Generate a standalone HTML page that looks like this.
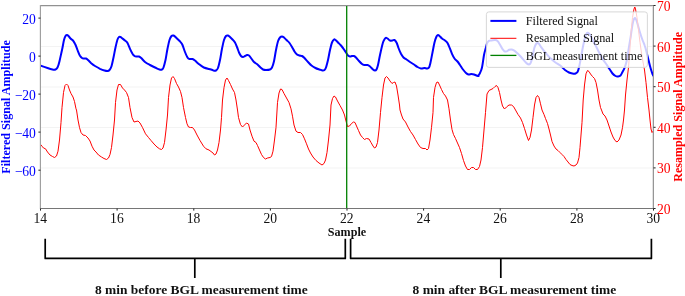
<!DOCTYPE html>
<html><head><meta charset="utf-8"><title>Signal plot</title>
<style>
html,body{margin:0;padding:0;background:#fff;}
body{width:685px;height:296px;overflow:hidden;font-family:"Liberation Serif",serif;}
svg{display:block;will-change:transform;}
text{font-family:"Liberation Serif",serif;}
.tk{font-size:13.6px;}
.b{font-weight:bold;font-size:12.1px;}
.bb{font-weight:bold;font-size:13.44px;}
</style></head><body>
<svg width="685" height="296" viewBox="0 0 685 296">
<rect x="0" y="0" width="685" height="296" fill="#fff"/>
<defs><clipPath id="cp"><rect x="40.5" y="5.5" width="613.0" height="203.0"/></clipPath></defs>

<line x1="40.5" x2="653.5" y1="46.5" y2="46.5" stroke="#f3f3f3" stroke-width="1"/>
<line x1="40.5" x2="653.5" y1="87.0" y2="87.0" stroke="#f3f3f3" stroke-width="1"/>
<line x1="40.5" x2="653.5" y1="127.5" y2="127.5" stroke="#f3f3f3" stroke-width="1"/>
<line x1="40.5" x2="653.5" y1="168.0" y2="168.0" stroke="#f3f3f3" stroke-width="1"/>
<g shape-rendering="crispEdges">
<rect x="41" y="6" width="611" height="1" fill="#e4e4e4"/>
<rect x="39" y="5" width="1" height="204" fill="#eeeeee"/>
<rect x="652" y="6" width="1" height="202" fill="#e2e2e2"/>
</g>
<g clip-path="url(#cp)" fill="none" stroke-linejoin="round" stroke-linecap="round">
<path d="M40.0 65.5 C41.2 65.9 45.4 67.3 47.5 68.0 C49.6 68.7 51.2 69.2 52.5 69.5 C53.8 69.8 54.7 69.8 55.5 69.5 C56.3 69.2 56.8 68.9 57.5 67.5 C58.2 66.1 58.8 64.2 59.5 61.2 C60.2 58.3 61.2 53.5 62.0 50.0 C62.8 46.5 63.4 42.3 64.0 40.0 C64.6 37.7 65.0 36.8 65.5 36.0 C66.0 35.2 66.5 35.0 67.0 35.0 C67.5 35.0 67.9 35.4 68.5 36.0 C69.1 36.6 69.8 37.8 70.5 38.5 C71.2 39.2 72.2 39.6 73.0 40.5 C73.8 41.4 74.2 42.2 75.0 43.8 C75.8 45.3 76.7 48.0 77.5 50.0 C78.3 52.0 79.2 54.4 80.0 55.8 C80.8 57.1 81.3 57.5 82.0 58.0 C82.7 58.5 83.3 58.4 84.0 58.5 C84.7 58.6 85.3 58.2 86.0 58.5 C86.7 58.8 87.1 59.2 88.0 60.0 C88.9 60.8 90.1 62.2 91.2 63.2 C92.4 64.2 93.5 65.1 95.0 66.0 C96.5 66.9 98.4 68.0 100.0 68.8 C101.6 69.5 103.2 70.1 104.5 70.5 C105.8 70.9 106.7 71.1 107.5 71.0 C108.3 70.9 108.8 70.8 109.5 70.0 C110.2 69.2 110.8 68.3 111.5 66.2 C112.2 64.2 112.8 60.6 113.5 57.5 C114.2 54.4 114.8 50.5 115.5 47.5 C116.2 44.5 116.9 41.2 117.5 39.5 C118.1 37.8 118.5 37.4 119.0 37.0 C119.5 36.6 119.9 36.8 120.5 37.0 C121.1 37.2 121.8 37.9 122.5 38.5 C123.2 39.1 124.2 39.8 125.0 40.5 C125.8 41.2 126.7 41.6 127.5 43.0 C128.3 44.4 129.2 47.0 130.0 48.8 C130.8 50.5 131.8 52.5 132.5 53.8 C133.2 55.0 133.8 55.5 134.5 56.0 C135.2 56.5 136.2 56.4 137.0 56.5 C137.8 56.6 138.3 56.2 139.0 56.5 C139.7 56.8 140.2 57.1 141.2 58.0 C142.2 58.9 143.5 60.8 145.0 62.0 C146.5 63.2 148.3 64.1 150.0 65.0 C151.7 65.9 153.4 66.8 155.0 67.5 C156.6 68.2 158.3 69.2 159.5 69.5 C160.7 69.8 161.3 69.8 162.0 69.5 C162.7 69.2 162.9 69.1 163.5 67.5 C164.1 65.9 164.8 63.1 165.5 60.0 C166.2 56.9 166.8 52.1 167.5 48.8 C168.2 45.4 168.8 42.1 169.5 40.0 C170.2 37.9 170.8 36.8 171.5 36.0 C172.2 35.2 172.8 35.3 173.5 35.5 C174.2 35.7 174.8 36.3 175.5 37.0 C176.2 37.7 177.2 38.7 178.0 39.5 C178.8 40.3 179.8 41.1 180.5 42.0 C181.2 42.9 181.8 43.3 182.5 45.0 C183.2 46.7 184.2 49.9 185.0 52.0 C185.8 54.1 186.8 56.3 187.5 57.5 C188.2 58.7 188.7 58.8 189.5 59.0 C190.3 59.2 191.6 58.8 192.5 59.0 C193.4 59.2 194.0 59.7 195.0 60.5 C196.0 61.3 197.3 62.8 198.8 64.0 C200.2 65.2 201.7 66.6 203.8 67.5 C205.8 68.4 209.4 69.0 211.0 69.5 C212.6 70.0 212.7 70.3 213.5 70.5 C214.3 70.7 215.2 70.9 216.0 70.5 C216.8 70.1 217.3 69.8 218.0 68.0 C218.7 66.2 219.3 63.2 220.0 60.0 C220.7 56.8 221.3 52.1 222.0 48.8 C222.7 45.4 223.3 42.1 224.0 40.0 C224.7 37.9 225.3 36.8 226.0 36.0 C226.7 35.2 227.3 35.3 228.0 35.5 C228.7 35.7 229.2 36.3 230.0 37.0 C230.8 37.7 231.7 38.6 232.5 39.5 C233.3 40.4 234.2 41.2 235.0 42.5 C235.8 43.8 236.3 45.3 237.0 47.0 C237.7 48.7 238.3 51.0 239.0 52.5 C239.7 54.0 240.3 55.2 241.0 56.0 C241.7 56.8 242.3 57.0 243.0 57.0 C243.7 57.0 244.3 56.3 245.0 56.0 C245.7 55.7 246.3 55.1 247.0 55.0 C247.7 54.9 248.3 55.0 249.0 55.5 C249.7 56.0 250.2 56.9 251.0 58.0 C251.8 59.1 252.9 60.9 254.0 62.0 C255.1 63.1 256.4 63.6 257.5 64.5 C258.6 65.4 259.6 66.7 260.5 67.5 C261.4 68.3 262.1 69.1 263.0 69.5 C263.9 69.9 264.8 70.0 266.0 70.0 C267.2 70.0 269.0 69.9 270.0 69.5 C271.0 69.1 271.3 68.9 272.0 67.5 C272.7 66.1 273.3 64.2 274.0 61.2 C274.7 58.3 275.3 53.3 276.0 50.0 C276.7 46.7 277.3 43.3 278.0 41.2 C278.7 39.2 279.3 38.3 280.0 37.5 C280.7 36.7 281.3 36.5 282.0 36.5 C282.7 36.5 283.2 36.9 284.0 37.5 C284.8 38.1 285.6 39.1 286.5 40.0 C287.4 40.9 288.6 41.8 289.5 43.0 C290.4 44.2 291.2 45.6 292.0 47.0 C292.8 48.4 293.7 50.2 294.5 51.5 C295.3 52.8 296.2 53.8 297.0 54.5 C297.8 55.2 298.7 55.2 299.5 55.5 C300.3 55.8 301.2 55.6 302.0 56.0 C302.8 56.4 303.5 57.0 304.5 58.0 C305.5 59.0 306.8 60.8 308.0 62.0 C309.2 63.2 310.2 64.5 311.5 65.5 C312.8 66.5 314.2 67.3 315.5 68.0 C316.8 68.7 318.3 69.1 319.5 69.5 C320.7 69.9 321.7 70.4 322.5 70.5 C323.3 70.6 323.9 70.5 324.5 70.0 C325.1 69.5 325.4 69.2 326.0 67.5 C326.6 65.8 327.3 62.9 328.0 60.0 C328.7 57.1 329.3 52.9 330.0 50.0 C330.7 47.1 331.3 44.2 332.0 42.5 C332.7 40.8 333.4 39.9 334.0 39.5 C334.6 39.1 334.8 39.5 335.5 40.0 C336.2 40.5 337.1 41.6 338.0 42.5 C338.9 43.4 340.0 44.3 341.0 45.5 C342.0 46.7 343.2 48.3 344.0 49.5 C344.8 50.7 345.3 51.5 346.0 52.5 C346.7 53.5 347.3 54.8 348.0 55.5 C348.7 56.2 349.3 56.4 350.0 56.5 C350.7 56.6 351.3 56.1 352.0 56.0 C352.7 55.9 353.3 55.8 354.0 56.0 C354.7 56.2 355.2 56.7 356.0 57.5 C356.8 58.3 358.0 59.9 359.0 61.0 C360.0 62.1 361.1 63.3 362.0 64.0 C362.9 64.7 363.6 64.8 364.5 65.0 C365.4 65.2 366.6 64.8 367.5 65.0 C368.4 65.2 369.1 65.8 370.0 66.5 C370.9 67.2 372.2 68.8 373.0 69.5 C373.8 70.2 374.4 70.5 375.0 70.5 C375.6 70.5 376.0 70.4 376.5 69.5 C377.0 68.6 377.4 67.4 378.0 65.0 C378.6 62.6 379.3 58.1 380.0 55.0 C380.7 51.9 381.4 48.5 382.0 46.2 C382.6 44.0 382.9 42.6 383.5 41.2 C384.1 39.9 384.8 38.5 385.5 38.0 C386.2 37.5 386.8 38.1 387.5 38.5 C388.2 38.9 389.2 40.2 390.0 40.5 C390.8 40.8 391.8 40.6 392.5 40.5 C393.2 40.4 393.8 39.7 394.5 40.0 C395.2 40.3 395.8 41.2 396.5 42.5 C397.2 43.8 397.8 46.1 398.5 48.0 C399.2 49.9 400.2 52.2 401.0 53.8 C401.8 55.3 402.6 56.5 403.5 57.5 C404.4 58.5 405.4 58.8 406.5 59.5 C407.6 60.2 408.8 61.2 410.0 62.0 C411.2 62.8 412.8 63.7 414.0 64.5 C415.2 65.3 416.3 66.3 417.5 67.0 C418.7 67.7 419.8 68.3 421.0 68.5 C422.2 68.7 423.5 68.0 424.5 68.0 C425.5 68.0 426.2 68.6 427.0 68.5 C427.8 68.4 428.4 68.5 429.0 67.5 C429.6 66.5 429.9 65.0 430.5 62.5 C431.1 60.0 431.8 55.8 432.5 52.5 C433.2 49.2 433.8 45.2 434.5 42.5 C435.2 39.8 435.9 37.8 436.5 36.5 C437.1 35.2 437.5 35.1 438.0 35.0 C438.5 34.9 438.8 35.4 439.5 36.0 C440.2 36.6 441.1 37.8 442.0 38.5 C442.9 39.2 444.1 39.8 445.0 40.5 C445.9 41.2 446.8 41.8 447.5 43.0 C448.2 44.2 448.8 45.7 449.5 47.5 C450.2 49.3 451.2 51.9 452.0 53.8 C452.8 55.6 453.6 57.2 454.5 58.5 C455.4 59.8 456.6 60.4 457.5 61.5 C458.4 62.6 459.1 63.7 460.0 65.0 C460.9 66.3 462.0 68.2 463.0 69.5 C464.0 70.8 465.1 72.2 466.0 73.0 C466.9 73.8 467.6 74.3 468.5 74.5 C469.4 74.7 470.6 74.0 471.5 74.0 C472.4 74.0 473.2 74.2 474.0 74.5 C474.8 74.8 475.8 75.2 476.5 75.5 C477.2 75.8 478.2 76.0 478.5 76.0 C478.8 76.0 478.2 76.0 478.5 75.5 C478.8 75.0 479.4 74.3 480.0 73.0 C480.6 71.7 481.3 70.5 482.0 67.5 C482.7 64.5 483.4 58.2 484.0 55.0 C484.6 51.8 485.3 50.0 485.8 48.0 C486.3 46.0 486.5 44.5 487.0 43.3 C487.5 42.1 488.0 41.3 488.8 40.8 C489.6 40.3 490.6 40.5 491.7 40.4 C492.8 40.3 494.2 40.0 495.2 40.1 C496.2 40.2 496.7 40.3 497.5 41.0 C498.3 41.7 499.1 43.2 499.9 44.5 C500.7 45.8 501.4 47.5 502.2 48.6 C503.0 49.7 503.7 50.8 504.5 51.3 C505.3 51.8 506.1 51.5 506.9 51.3 C507.7 51.0 508.4 50.1 509.2 49.8 C510.0 49.5 510.7 49.3 511.5 49.4 C512.3 49.5 512.9 49.8 513.9 50.4 C514.9 51.0 516.2 52.2 517.4 53.3 C518.6 54.4 519.7 55.5 520.9 56.8 C522.1 58.1 523.4 59.8 524.4 60.9 C525.4 62.0 525.9 62.8 526.7 63.4 C527.5 64.0 528.4 64.5 529.1 64.4 C529.8 64.3 530.2 64.0 530.8 62.6 C531.4 61.2 532.0 58.6 532.6 56.2 C533.2 53.8 533.7 50.0 534.3 48.0 C534.9 46.0 535.6 44.7 536.1 43.9 C536.6 43.1 537.0 43.1 537.5 43.1 C538.0 43.1 538.4 43.2 539.0 43.9 C539.6 44.6 540.2 45.9 541.3 47.4 C542.4 48.9 543.9 51.0 545.4 52.7 C546.9 54.5 548.5 56.4 550.1 57.9 C551.7 59.4 553.1 60.8 554.8 62.0 C556.4 63.2 558.3 64.0 560.0 65.3 C561.7 66.6 563.5 68.8 565.0 70.0 C566.5 71.2 567.8 71.9 569.0 72.5 C570.2 73.1 571.4 73.3 572.5 73.5 C573.6 73.7 574.7 73.8 575.5 73.5 C576.3 73.2 576.9 73.0 577.5 72.0 C578.1 71.0 578.4 69.9 579.0 67.5 C579.6 65.1 580.3 61.0 581.0 57.5 C581.7 54.0 582.3 49.8 583.0 46.5 C583.7 43.2 584.4 39.9 585.0 37.8 C585.6 35.7 585.9 34.6 586.4 33.8 C586.9 33.0 587.2 32.8 587.7 32.8 C588.2 32.8 588.7 33.3 589.2 33.8 C589.7 34.3 589.8 34.4 590.7 36.0 C591.6 37.6 593.2 40.9 594.5 43.4 C595.8 45.9 596.9 48.2 598.2 50.7 C599.5 53.2 601.3 56.7 602.5 58.7 C603.7 60.8 604.3 61.3 605.5 63.0 C606.7 64.7 608.3 67.2 609.5 69.0 C610.7 70.8 611.5 72.3 612.5 73.5 C613.5 74.7 614.6 75.5 615.5 76.0 C616.4 76.5 617.2 76.6 618.0 76.5 C618.8 76.4 619.8 76.2 620.5 75.5 C621.2 74.8 621.8 73.2 622.5 72.0 C623.2 70.8 623.9 69.7 624.5 68.0 C625.1 66.3 625.7 65.1 626.4 62.0 C627.1 58.9 627.9 53.5 628.6 49.2 C629.3 44.9 630.1 40.1 630.8 36.0 C631.4 31.9 632.0 27.2 632.5 24.5 C633.0 21.8 633.4 20.6 633.8 19.5 C634.2 18.4 634.6 17.9 635.0 18.0 C635.4 18.1 635.9 19.0 636.3 20.0 C636.7 21.0 636.9 21.7 637.5 23.8 C638.1 25.8 639.2 29.8 640.0 32.5 C640.8 35.2 641.7 37.8 642.5 40.0 C643.3 42.2 644.0 43.2 644.7 45.5 C645.5 47.8 646.4 51.6 647.0 54.0 C647.6 56.4 648.0 58.0 648.5 60.0 C649.0 62.0 649.5 64.2 650.0 66.0 C650.5 67.8 650.9 69.2 651.3 70.5 C651.7 71.8 652.1 73.1 652.5 74.0 C652.9 74.9 653.3 75.7 653.5 76.0" stroke="#0000ff" stroke-width="2.0"/>
<path d="M40.0 143.8 L42.0 146.2 L43.5 148.0 L45.5 148.8 L47.5 152.0 L50.0 155.0 L52.5 156.5 L54.5 157.5 L56.5 156.0 L58.0 151.2 L59.5 140.0 L61.0 122.5 L62.0 107.5 L63.5 92.5 L65.0 85.5 L66.5 84.0 L68.0 85.5 L69.5 90.0 L71.0 93.5 L73.0 97.0 L74.5 101.5 L76.0 108.8 L76.5 110.0 L78.0 120.0 L79.5 127.5 L81.0 132.5 L83.0 135.0 L85.5 135.5 L88.0 138.0 L90.0 141.0 L92.0 146.2 L94.0 150.0 L96.0 152.0 L98.5 155.0 L101.5 157.0 L104.0 158.5 L106.5 159.5 L108.5 158.0 L110.0 154.5 L111.5 147.5 L113.0 135.0 L114.5 120.0 L115.5 102.5 L117.0 90.0 L118.5 84.5 L120.5 84.5 L122.5 88.0 L124.5 90.0 L126.5 92.5 L128.5 97.5 L130.0 107.5 L130.5 110.0 L132.0 117.5 L134.0 122.0 L136.0 121.5 L138.0 121.0 L140.0 123.0 L142.5 127.5 L145.5 133.8 L148.5 137.5 L151.0 140.5 L154.0 144.0 L157.0 147.0 L159.5 148.8 L161.5 149.5 L163.0 148.0 L164.5 142.5 L166.0 130.0 L167.5 115.0 L168.5 97.5 L170.0 85.0 L171.5 78.0 L173.0 76.5 L174.5 78.5 L176.5 83.5 L178.5 87.0 L180.5 91.5 L182.0 97.5 L183.5 107.5 L184.0 110.0 L185.5 117.5 L187.0 123.8 L188.5 127.0 L190.5 127.5 L192.5 127.5 L194.5 130.0 L197.0 135.0 L200.0 140.5 L203.5 146.2 L206.0 148.8 L209.0 150.0 L211.0 151.5 L213.0 153.0 L214.5 155.0 L216.0 154.0 L217.5 150.0 L219.0 142.5 L220.5 130.0 L221.5 117.5 L222.5 100.0 L224.0 87.5 L225.5 80.0 L227.0 78.0 L228.5 80.5 L230.5 84.5 L232.5 89.0 L234.5 92.5 L236.0 100.0 L237.5 110.0 L238.5 117.5 L240.5 124.5 L242.5 127.0 L244.5 125.0 L246.5 123.0 L248.5 124.0 L250.0 130.0 L252.0 136.2 L254.0 141.2 L256.0 142.5 L257.5 145.5 L259.5 150.0 L261.5 154.5 L263.5 157.5 L265.5 159.0 L267.5 158.0 L270.0 157.5 L271.5 156.5 L273.0 151.2 L274.5 140.0 L276.0 127.5 L277.5 102.5 L279.0 93.0 L280.5 89.0 L282.0 89.5 L284.0 93.5 L286.5 98.0 L289.0 102.5 L291.0 108.8 L292.5 116.2 L294.0 125.0 L296.0 131.2 L298.0 132.5 L300.5 132.5 L302.5 134.5 L304.5 138.8 L306.5 143.8 L308.5 149.0 L310.5 153.0 L313.0 157.0 L316.0 160.5 L319.0 163.0 L322.0 165.0 L324.0 163.5 L325.5 160.0 L327.0 152.5 L328.5 140.0 L330.0 125.0 L331.0 105.0 L332.5 98.5 L334.0 96.0 L335.5 97.0 L337.5 101.0 L340.0 105.5 L342.5 110.0 L344.5 115.0 L346.0 121.2 L347.5 126.5 L349.5 126.0 L351.5 123.5 L353.5 122.0 L355.0 122.5 L356.5 126.0 L358.5 130.5 L360.5 135.0 L362.5 137.5 L364.5 139.5 L366.5 138.5 L369.0 139.0 L371.0 142.5 L373.0 146.0 L374.5 148.0 L376.0 147.0 L377.5 142.5 L379.0 130.0 L380.5 112.5 L382.0 97.5 L383.5 85.0 L385.0 78.0 L386.5 76.5 L388.0 78.0 L390.0 81.0 L392.0 83.5 L393.5 82.5 L395.0 82.0 L396.5 86.0 L398.0 95.0 L399.5 105.0 L400.0 110.0 L401.5 115.0 L403.0 119.0 L405.5 122.0 L408.0 127.0 L410.5 131.5 L413.0 135.0 L415.5 139.5 L418.0 144.0 L420.5 147.5 L423.0 148.5 L425.5 148.5 L427.0 150.0 L428.5 148.5 L430.0 140.0 L431.5 127.5 L433.0 112.5 L433.5 97.5 L435.0 87.5 L436.5 82.5 L438.0 82.0 L439.5 85.0 L441.5 89.5 L443.5 93.5 L445.5 96.0 L447.5 100.0 L449.0 108.8 L450.5 120.0 L452.0 129.5 L453.5 134.5 L455.5 138.5 L457.5 143.0 L459.5 147.5 L461.5 153.5 L463.5 160.5 L465.5 166.0 L467.5 169.5 L469.5 169.5 L471.5 167.5 L473.5 167.5 L475.5 169.5 L477.5 169.5 L479.5 166.5 L481.0 160.0 L482.5 147.5 L484.0 130.0 L485.5 112.5 L487.0 94.0 L489.0 90.5 L491.0 89.5 L493.0 88.5 L495.0 86.5 L496.5 85.5 L498.0 87.5 L499.5 92.5 L501.0 100.0 L502.5 106.0 L504.5 109.0 L506.5 107.0 L509.0 105.0 L511.5 105.0 L513.5 106.5 L515.5 110.0 L518.0 114.5 L520.5 118.0 L522.5 122.5 L524.5 128.5 L526.5 135.0 L528.5 140.5 L530.0 137.5 L531.5 130.0 L533.0 117.5 L534.5 105.0 L536.0 97.5 L537.5 95.5 L539.0 97.5 L540.5 103.8 L542.0 110.0 L544.0 114.5 L545.5 118.5 L547.5 123.5 L549.0 129.0 L550.5 135.0 L552.0 141.5 L554.0 146.0 L556.0 149.0 L558.0 150.5 L560.0 152.5 L562.0 154.5 L564.0 156.5 L566.0 159.5 L568.0 162.0 L570.0 164.5 L572.0 165.5 L574.0 166.0 L576.0 165.0 L577.5 163.0 L579.0 157.5 L580.0 147.5 L581.0 135.0 L582.0 122.5 L583.2 100.0 L584.5 85.0 L586.0 73.8 L587.5 70.5 L589.0 71.5 L590.5 74.0 L592.5 76.5 L594.5 78.5 L596.0 82.5 L597.5 90.0 L599.0 100.0 L600.5 107.5 L601.5 110.0 L603.0 114.0 L605.0 116.0 L607.0 120.0 L609.0 126.0 L611.0 132.0 L613.0 137.0 L615.0 140.5 L617.0 142.0 L619.0 140.0 L621.0 135.0 L622.5 127.5 L623.5 120.0 L624.5 110.0 L625.5 95.0 L627.0 80.0 L628.5 67.5 L629.5 55.0 L631.0 32.5 L632.5 17.5 L634.0 9.0 L634.8 7.0 L635.5 9.0 L637.0 17.5 L638.5 30.0 L640.0 42.5 L641.5 53.0 L643.0 62.0 L644.5 70.0 L646.0 82.5 L647.5 97.5 L649.0 110.0 L650.0 120.0 L651.0 129.0 L652.0 132.5 L653.5 131.0" stroke="#ff0000" stroke-width="1.0"/>
<line x1="346.70" x2="346.70" y1="5.5" y2="208.5" stroke="#008000" stroke-width="1.3"/>
</g>
<g shape-rendering="crispEdges">
<rect x="40" y="5" width="614" height="1" fill="#919191"/>
<rect x="40" y="208" width="614" height="1" fill="#767676"/>
<rect x="40" y="5" width="1" height="204" fill="#a0a0a0"/>
<rect x="653" y="5" width="1" height="204" fill="#969696"/>
</g>
<line x1="40.5" x2="40.5" y1="208.5" y2="210.6" stroke="#222" stroke-width="1"/>
<text class="tk" transform="translate(40.3 222.6) scale(1 1.05)" text-anchor="middle" fill="#111">14</text>
<line x1="117.1" x2="117.1" y1="208.5" y2="210.6" stroke="#222" stroke-width="1"/>
<text class="tk" transform="translate(116.9 222.6) scale(1 1.05)" text-anchor="middle" fill="#111">16</text>
<line x1="193.8" x2="193.8" y1="208.5" y2="210.6" stroke="#222" stroke-width="1"/>
<text class="tk" transform="translate(193.6 222.6) scale(1 1.05)" text-anchor="middle" fill="#111">18</text>
<line x1="270.4" x2="270.4" y1="208.5" y2="210.6" stroke="#222" stroke-width="1"/>
<text class="tk" transform="translate(270.2 222.6) scale(1 1.05)" text-anchor="middle" fill="#111">20</text>
<line x1="347.0" x2="347.0" y1="208.5" y2="210.6" stroke="#222" stroke-width="1"/>
<text class="tk" transform="translate(346.8 222.6) scale(1 1.05)" text-anchor="middle" fill="#111">22</text>
<line x1="423.6" x2="423.6" y1="208.5" y2="210.6" stroke="#222" stroke-width="1"/>
<text class="tk" transform="translate(423.4 222.6) scale(1 1.05)" text-anchor="middle" fill="#111">24</text>
<line x1="500.2" x2="500.2" y1="208.5" y2="210.6" stroke="#222" stroke-width="1"/>
<text class="tk" transform="translate(500.1 222.6) scale(1 1.05)" text-anchor="middle" fill="#111">26</text>
<line x1="576.9" x2="576.9" y1="208.5" y2="210.6" stroke="#222" stroke-width="1"/>
<text class="tk" transform="translate(576.7 222.6) scale(1 1.05)" text-anchor="middle" fill="#111">28</text>
<line x1="653.5" x2="653.5" y1="208.5" y2="210.6" stroke="#222" stroke-width="1"/>
<text class="tk" transform="translate(653.3 222.6) scale(1 1.05)" text-anchor="middle" fill="#111">30</text>
<line x1="38.4" x2="40.5" y1="18.1" y2="18.1" stroke="#222" stroke-width="1"/>
<text class="tk" transform="translate(35.9 23.6) scale(1 1.05)" text-anchor="end" fill="#0000ff">20</text>
<line x1="38.4" x2="40.5" y1="56.1" y2="56.1" stroke="#222" stroke-width="1"/>
<text class="tk" transform="translate(35.9 61.6) scale(1 1.05)" text-anchor="end" fill="#0000ff">0</text>
<line x1="38.4" x2="40.5" y1="94.1" y2="94.1" stroke="#222" stroke-width="1"/>
<text class="tk" transform="translate(35.9 99.6) scale(1 1.05)" text-anchor="end" fill="#0000ff">−20</text>
<line x1="38.4" x2="40.5" y1="132.1" y2="132.1" stroke="#222" stroke-width="1"/>
<text class="tk" transform="translate(35.9 137.6) scale(1 1.05)" text-anchor="end" fill="#0000ff">−40</text>
<line x1="38.4" x2="40.5" y1="170.2" y2="170.2" stroke="#222" stroke-width="1"/>
<text class="tk" transform="translate(35.9 175.7) scale(1 1.05)" text-anchor="end" fill="#0000ff">−60</text>
<line x1="653.5" x2="655.6" y1="208.5" y2="208.5" stroke="#222" stroke-width="1"/>
<text class="tk" transform="translate(657.0 214.0) scale(1 1.05)" fill="#ff0000">20</text>
<line x1="653.5" x2="655.6" y1="167.9" y2="167.9" stroke="#222" stroke-width="1"/>
<text class="tk" transform="translate(657.0 173.4) scale(1 1.05)" fill="#ff0000">30</text>
<line x1="653.5" x2="655.6" y1="127.3" y2="127.3" stroke="#222" stroke-width="1"/>
<text class="tk" transform="translate(657.0 132.8) scale(1 1.05)" fill="#ff0000">40</text>
<line x1="653.5" x2="655.6" y1="86.7" y2="86.7" stroke="#222" stroke-width="1"/>
<text class="tk" transform="translate(657.0 92.2) scale(1 1.05)" fill="#ff0000">50</text>
<line x1="653.5" x2="655.6" y1="46.1" y2="46.1" stroke="#222" stroke-width="1"/>
<text class="tk" transform="translate(657.0 51.6) scale(1 1.05)" fill="#ff0000">60</text>
<line x1="653.5" x2="655.6" y1="5.5" y2="5.5" stroke="#222" stroke-width="1"/>
<text class="tk" transform="translate(657.0 11.0) scale(1 1.05)" fill="#ff0000">70</text>
<text class="b" x="347.0" y="236.3" text-anchor="middle" fill="#111">Sample</text>
<text class="b" transform="translate(10.4 106.9) rotate(-90)" text-anchor="middle" fill="#0000ff">Filtered Signal Amplitude</text>
<text class="b" transform="translate(682.3 106.9) rotate(-90)" text-anchor="middle" fill="#ff0000">Resampled Signal Amplitude</text>
<rect x="486.4" y="11.9" width="161.0" height="55.5" rx="2.5" ry="2.5" fill="#fff" fill-opacity="0.8" stroke="#d4d4d4" stroke-width="0.9"/>
<line x1="490.4" x2="516.4" y1="20.9" y2="20.9" stroke="#0000ff" stroke-width="2.0"/>
<line x1="490.4" x2="516.4" y1="38.3" y2="38.3" stroke="#ff0000" stroke-width="1.0"/>
<line x1="490.4" x2="516.4" y1="55.4" y2="55.4" stroke="#008000" stroke-width="1.3"/>
<text x="525.8" y="25.4" font-size="12.2" fill="#111">Filtered Signal</text>
<text x="525.8" y="42.4" font-size="12.2" fill="#111">Resampled Signal</text>
<text x="525.8" y="59.5" font-size="12.2" fill="#111">BGL measurement time</text>
<g fill="none" stroke="#000" stroke-width="1.7" stroke-linejoin="round" stroke-linecap="butt">
<path d="M45.2 238.8 V258.4 H345.3 V238.8"/>
<path d="M194.8 258.4 V278.0"/>
<path d="M350.6 238.8 V258.4 H651.4 V238.8"/>
<path d="M500.8 258.4 V278.0"/>
</g>
<text class="bb" x="201.3" y="294.1" text-anchor="middle" fill="#111">8 min before BGL measurement time</text>
<text class="bb" x="514.4" y="294.1" text-anchor="middle" fill="#111">8 min after BGL measurement time</text>
</svg></body></html>
